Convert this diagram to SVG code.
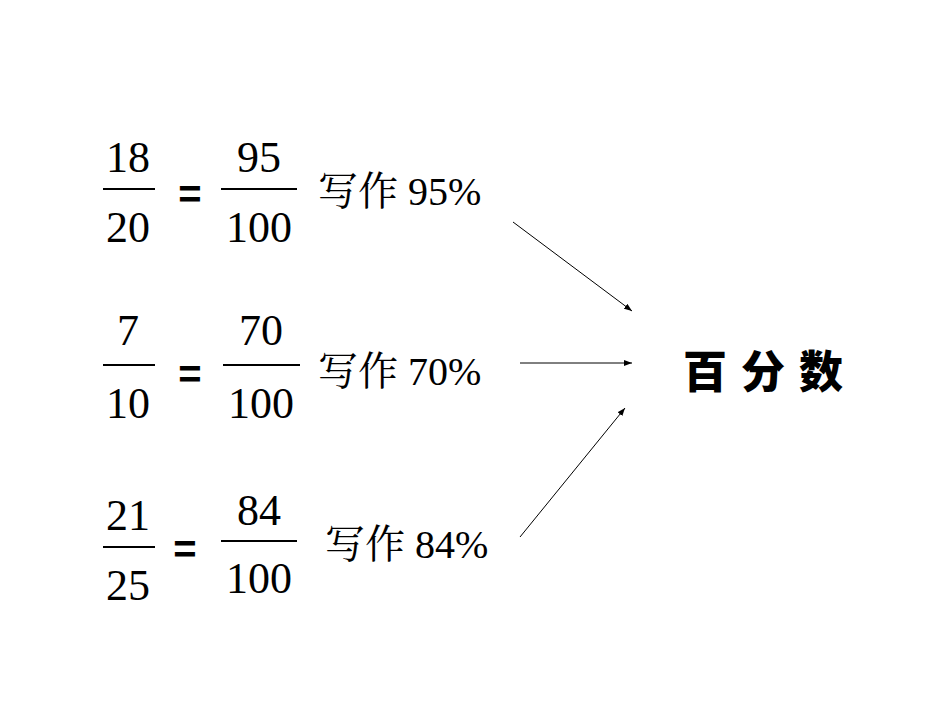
<svg xmlns="http://www.w3.org/2000/svg" width="950" height="713" viewBox="0 0 950 713">
<style>
.n{font-family:"Liberation Serif","Noto Sans CJK SC",serif;font-size:44px;text-anchor:middle;fill:#000}
.w{font-family:"Liberation Serif","Noto Serif CJK SC","Noto Sans CJK SC",serif;font-size:40px;fill:#000}
.eq{font-family:"Liberation Sans",sans-serif;font-size:40px;font-weight:bold;text-anchor:middle}
.b{stroke:#000;stroke-width:2}
.c{stroke:#000;stroke-width:1;fill:none;marker-end:url(#a)}
</style>
<defs><marker id="a" markerWidth="8" markerHeight="6" refX="8" refY="3" orient="auto" markerUnits="userSpaceOnUse"><path d="M0,0L8,3L0,6z" fill="#000"/></marker></defs>
<g id="row1">
<text class="n" x="128" y="172">18</text><line class="b" x1="103" y1="189" x2="155" y2="189"/><text class="n" x="128" y="242">20</text>
<text class="eq" x="190" y="208">=</text>
<text class="n" x="259" y="172">95</text><line class="b" x1="221" y1="189" x2="297" y2="189"/><text class="n" x="259" y="242">100</text>
<text class="w" x="318" y="205">写作 95%</text>
</g>
<g id="row2">
<text class="n" x="128" y="345">7</text><line class="b" x1="103" y1="365" x2="155" y2="365"/><text class="n" x="128" y="418">10</text>
<text class="eq" x="190" y="388">=</text>
<text class="n" x="261" y="345">70</text><line class="b" x1="223" y1="365" x2="300" y2="365"/><text class="n" x="261" y="418">100</text>
<text class="w" x="318" y="385">写作 70%</text>
</g>
<g id="row3">
<text class="n" x="128" y="530">21</text><line class="b" x1="103" y1="547" x2="155" y2="547"/><text class="n" x="128" y="600">25</text>
<text class="eq" x="185" y="563">=</text>
<text class="n" x="259" y="525">84</text><line class="b" x1="221" y1="541" x2="297" y2="541"/><text class="n" x="259" y="593">100</text>
<text class="w" x="325" y="558">写作 84%</text>
</g>
<g id="target"><text x="683" y="388" style="font-family:'Noto Sans CJK SC',sans-serif;font-size:44px;font-weight:900;letter-spacing:14px">百分数</text></g>
<g id="connectors">
<line class="c" x1="513" y1="222" x2="632" y2="311"/>
<line class="c" x1="520" y1="363" x2="632" y2="363"/>
<line class="c" x1="520" y1="537" x2="625" y2="408"/>
</g>
</svg>
